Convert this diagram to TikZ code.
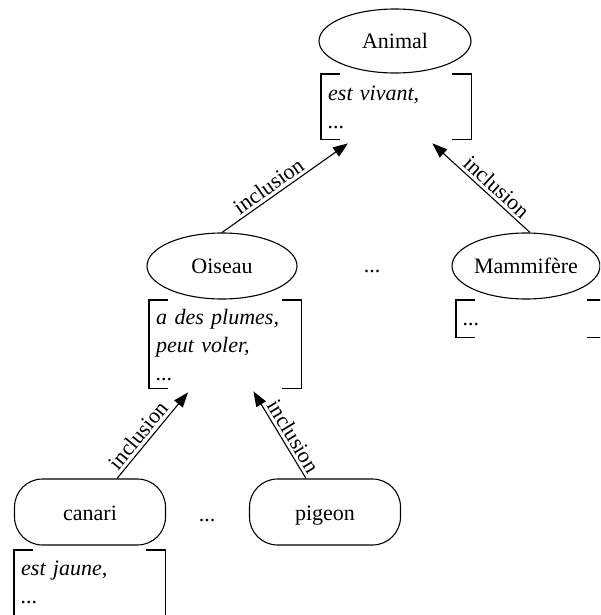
\documentclass[tikz,border=0pt]{standalone}
\usepackage{fontspec}
\setmainfont{Liberation Serif}
\usetikzlibrary{shapes.geometric,arrows.meta}

\tikzset{
  txt/.style={font=\fontsize{22}{28}\selectfont},
  concept/.style={txt, ellipse, draw, line width=1.1pt, inner sep=0pt,
    minimum width=150pt, minimum height=66pt},
  instance/.style={txt, rectangle, draw, line width=1.1pt, rounded corners=28pt,
    minimum width=151pt, minimum height=66pt, text height=16pt, text depth=0pt},
  attrs/.style={anchor=north west, align=left, inner xsep=7pt, inner ysep=0pt,
    font=\fontsize{22}{28}\selectfont\itshape},
  bracketline/.style={line width=1.1pt},
  isa/.style={-{Triangle[length=15pt,width=11pt]}, line width=1.1pt},
  edgelabel/.style={txt, sloped, above, pos=0.42, inner sep=3pt}
}

% square bracket pair around an attribute list: node name, arm length
\newcommand\attrbracket[2]{%
  \draw[bracketline]
    ([xshift=#2]#1.north west) -- (#1.north west) -- (#1.south west) -- ([xshift=#2]#1.south west)
    ([xshift=-#2]#1.north east) -- (#1.north east) -- (#1.south east) -- ([xshift=-#2]#1.south east);}

\begin{document}
\begin{tikzpicture}[x=1pt,y=-1pt]
\useasboundingbox (0,0) rectangle (600,615);
\clip (0,0) rectangle (600,615);

% concepts
\node[concept, minimum width=152pt, minimum height=64pt] (animal) at (395,41) {Animal};
\node[concept] (oiseau) at (222,266) {Oiseau};
\node[concept, minimum width=148pt] (mammifere) at (526,266) {Mammifère};
\node[txt, anchor=base] (dotsA) at (372,272) {...};

% instances
\node[instance] (canari) at (90,512) {canari};
\node[instance] (pigeon) at (325,512) {pigeon};
\node[txt, anchor=base] (dotsB) at (207,521) {...};

% attribute lists
\node[attrs, text width=136pt] (animalattr) at (321,74)
  {\rule{0pt}{26pt}est vivant,\\...\rule[-11pt]{0pt}{11pt}};
\node[attrs, text width=138pt] (oiseauattr) at (149,300)
  {\rule{0pt}{24pt}a des plumes,\\peut voler,\\...\rule[-8pt]{0pt}{8pt}};
\node[attrs, text width=136pt] (mammattr) at (456,300)
  {\rule{0pt}{25pt}...\rule[-12pt]{0pt}{12pt}};
\node[attrs, text width=137pt] (canariattr) at (14,550)
  {\rule{0pt}{25pt}est jaune,\\...\rule[-12pt]{0pt}{12pt}};

\attrbracket{animalattr}{19pt}
\attrbracket{oiseauattr}{19pt}
\attrbracket{mammattr}{19pt}
\attrbracket{canariattr}{19pt}

% inclusion links
\draw[isa] (oiseau.north) -- node[edgelabel] {inclusion}
  ([shift={(27pt,-4pt)}]animalattr.south west);
\draw[isa] ([xshift=4pt]mammifere.north) -- node[edgelabel] {inclusion}
  ([shift={(-39pt,-4pt)}]animalattr.south east);
\draw[isa] ([xshift=27pt]canari.north) -- node[edgelabel] {inclusion}
  ([shift={(39pt,-4pt)}]oiseauattr.south west);
\draw[isa] ([xshift=-19pt]pigeon.north) -- node[edgelabel] {inclusion}
  ([shift={(-48pt,-3pt)}]oiseauattr.south east);
\end{tikzpicture}
\end{document}
